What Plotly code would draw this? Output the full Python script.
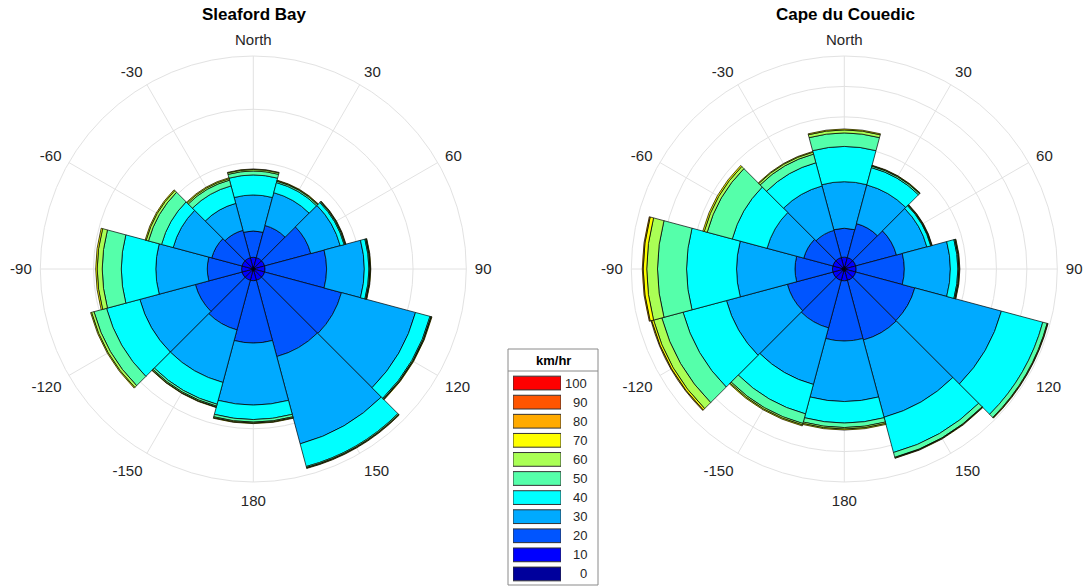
import plotly.graph_objects as go

# Direction sectors (degrees clockwise from North) and their tick labels
directions = [0, 30, 60, 90, 120, 150, 180, 210, 240, 270, 300, 330]
tick_vals = [0, 30, 60, 90, 120, 150, 180, 210, 240, 270, 300, 330]
tick_text = ["North", "30", "60", "90", "120", "150", "180",
             "-150", "-120", "-90", "-60", "-30"]

# Speed bins (km/hr, lower edge) and their colours
speed_bins = [0, 10, 20, 30, 40, 50, 60, 70, 80, 90, 100]
bin_colors = ["#00009C", "#0000FF", "#0055FF", "#00AAFF", "#00FFFF",
              "#55FFAA", "#AAFF55", "#FFFF00", "#FFAA00", "#FF5500", "#FF0000"]

# Sleaford Bay: frequency (%) per direction for each speed bin
sleaford_0 = [0.2] * 12
sleaford_10 = [0.9] * 12
sleaford_20 = [2.47, 3.13, 4.49, 5.78, 7.47, 7.41, 5.85, 4.82, 4.53, 3.22, 2.94, 2.66]
sleaford_30 = [3.38, 3.19, 2.86, 3.54, 7.20, 8.49, 5.82, 5.11, 5.40, 4.83, 3.75, 2.62]
sleaford_40 = [1.88, 0.98, 0.38, 0.43, 1.41, 2.20, 1.36, 2.12, 3.24, 3.24, 1.13, 1.70]
sleaford_50 = [0.37, 0.14, 0.09, 0.09, 0.10, 0.10, 0.24, 0.18, 1.22, 1.79, 1.27, 0.56]
sleaford_60 = [0.14, 0.05, 0.05, 0.05, 0.04, 0.04, 0.09, 0.10, 0.24, 0.47, 0.23, 0.14]
sleaford_70 = [0.05, 0.05, 0.04, 0.04, 0.05, 0.05, 0.05, 0.04, 0.09, 0.14, 0.10, 0.09]

# Cape du Couedic: frequency (%) per direction for each speed bin
couedic_0 = [0.4] * 12
couedic_10 = [1.55] * 12
couedic_20 = [4.74, 5.77, 6.92, 7.91, 10.04, 10.13, 9.88, 8.07, 7.74, 6.15, 4.95, 4.62]
couedic_30 = [7.65, 6.58, 5.18, 7.56, 14.74, 13.14, 9.94, 9.62, 10.36, 9.60, 6.24, 7.56]
couedic_40 = [5.79, 2.95, 0.66, 1.23, 7.04, 6.00, 3.53, 5.01, 7.39, 8.21, 5.92, 3.94]
couedic_50 = [2.22, 0.25, 0.11, 0.16, 0.74, 0.82, 0.74, 1.64, 3.61, 4.77, 4.27, 1.48]
couedic_60 = [0.49, 0.08, 0.07, 0.09, 0.08, 0.09, 0.25, 0.25, 1.40, 1.77, 0.50, 0.33]
couedic_70 = [0.16, 0.08, 0.06, 0.08, 0.08, 0.08, 0.16, 0.16, 0.33, 0.58, 0.24, 0.12]
couedic_80 = [0, 0, 0, 0, 0, 0, 0, 0, 0.10, 0.15, 0, 0]

sleaford = [sleaford_0, sleaford_10, sleaford_20, sleaford_30, sleaford_40,
            sleaford_50, sleaford_60, sleaford_70]
couedic = [couedic_0, couedic_10, couedic_20, couedic_30, couedic_40,
           couedic_50, couedic_60, couedic_70, couedic_80]

W, H = 1086, 587
FONT = "Liberation Sans, Arial, Helvetica, sans-serif"
GRID = "#e2e2e2"
TXT = "#262626"

fig = go.Figure()

for subplot, station in (("polar", sleaford), ("polar2", couedic)):
    for i, freqs in enumerate(station):
        fig.add_trace(go.Barpolar(
            r=freqs, theta=directions, width=[30] * len(directions),
            marker=dict(color=bin_colors[i], line=dict(color="black", width=0.7)),
            subplot=subplot, showlegend=False, name=str(speed_bins[i]),
        ))

# Legend built as a small bar chart: one swatch per speed bin
legend_rows = list(range(len(speed_bins)))
fig.add_trace(go.Bar(
    x=[1] * len(speed_bins), y=legend_rows, base=0, orientation="h", width=0.72,
    marker=dict(color=bin_colors, line=dict(color="#333333", width=1)),
    xaxis="x", yaxis="y", showlegend=False, hoverinfo="skip",
))


def polar_layout(rmax, step, xdom):
    return dict(
        domain=dict(x=xdom, y=[1 - (269 + 213) / H, 1 - (269 - 213) / H]),
        bgcolor="white",
        barmode="stack",
        radialaxis=dict(range=[0, rmax], tickvals=[step * k for k in range(1, int(rmax / step) + 1)],
                        showticklabels=False, ticks="", showline=False,
                        gridcolor=GRID, gridwidth=1),
        angularaxis=dict(direction="clockwise", rotation=90, tickmode="array",
                         tickvals=tick_vals, ticktext=tick_text,
                         ticks="outside", ticklen=5, tickcolor="rgba(0,0,0,0)",
                         gridcolor=GRID, linecolor=GRID, linewidth=1,
                         tickfont=dict(family=FONT, size=15, color=TXT)),
    )


annotations = [
    dict(text="<b>Sleaford Bay</b>", x=254 / W, y=1 - 14 / H, xref="paper", yref="paper",
         showarrow=False, font=dict(family=FONT, size=17, color="black"), xanchor="center", yanchor="middle"),
    dict(text="<b>Cape du Couedic</b>", x=845 / W, y=1 - 14 / H, xref="paper", yref="paper",
         showarrow=False, font=dict(family=FONT, size=17, color="black"), xanchor="center", yanchor="middle"),
    dict(text="<b>km/hr</b>", x=553 / W, y=1 - 360 / H, xref="paper", yref="paper",
         showarrow=False, font=dict(family=FONT, size=13, color="black"), xanchor="center", yanchor="middle"),
]
for row, sb in zip(legend_rows, speed_bins):
    annotations.append(dict(text=str(sb), x=589 / W, y=row, xref="paper", yref="y",
                            showarrow=False, xanchor="right", yanchor="middle",
                            font=dict(family=FONT, size=13, color=TXT)))

shapes = [
    dict(type="rect", xref="paper", yref="paper", x0=508 / W, x1=598 / W,
         y0=1 - 585 / H, y1=1 - 349 / H, line=dict(color="#8a8a8a", width=1), fillcolor="rgba(0,0,0,0)"),
    dict(type="line", xref="paper", yref="paper", x0=508 / W, x1=598 / W,
         y0=1 - 371 / H, y1=1 - 371 / H, line=dict(color="#8a8a8a", width=1)),
]

fig.update_layout(
    width=W, height=H,
    margin=dict(l=0, r=0, t=0, b=0),
    paper_bgcolor="white", plot_bgcolor="white",
    font=dict(family=FONT, color=TXT),
    polar=polar_layout(20, 5, [(253.3 - 213) / W, (253.3 + 213) / W]),
    polar2=polar_layout(35, 5, [(844.3 - 213) / W, (844.3 + 213) / W]),
    xaxis=dict(domain=[513 / W, 561 / W], range=[0, 1], visible=False, fixedrange=True),
    yaxis=dict(domain=[1 - 583.5 / H, 1 - 373.5 / H], range=[-0.5, len(speed_bins) - 0.5],
               visible=False, fixedrange=True),
    annotations=annotations,
    shapes=shapes,
)

fig.write_html("out.html")
